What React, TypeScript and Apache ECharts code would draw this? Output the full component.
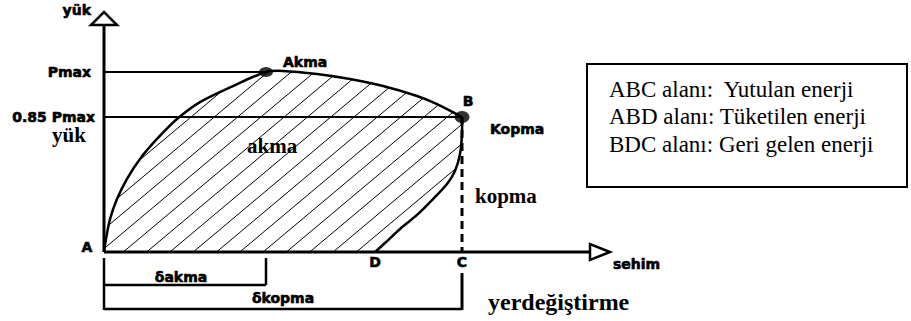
import React, { useEffect, useRef } from "react";
import * as echarts from "echarts";

// Diagram values (x: sehim / yerdeğiştirme, y: yük with Pmax = 100)
const origin: [number, number] = [0, 0];
const akmaPoint: [number, number] = [32.4, 100];
const pointB: [number, number] = [71.6, 75];
const pointC: [number, number] = [71.6, 0];
const pointD: [number, number] = [54.2, 0];
const X_AXIS_END = 97.2;
const Y_AXIS_END = 126.1;

const upperCurve: [number, number][] = [
  [0, 0], [0.4, 7.2], [1.2, 18.3], [2.6, 29.4], [4.6, 40.6], [7.2, 51.7],
  [10.6, 62.8], [14.6, 73.9], [19.2, 83.3], [25.8, 92.2], [32.4, 100], [35.8, 100.6],
  [42.6, 98.9], [49.2, 96.1], [55.8, 92.2], [62.6, 86.7], [66.6, 82.2], [71.6, 75],
];
const lowerCurve: [number, number][] = [
  [71.6, 75], [71.6, 65.6], [71.2, 54.4], [70.2, 45], [68.6, 37.8], [65.8, 29.4],
  [62.6, 20.6], [59.2, 12.8], [56.2, 5], [54.2, 0],
];
const pmaxLine = [[0, 100], akmaPoint];
const p085Line = [[0, 75], pointB];
const breakDrop = [pointB, pointC];
const infoLines = [
  "ABC alanı:  Yutulan enerji",
  "ABD alanı: Tüketilen enerji",
  "BDC alanı: Geri gelen enerji",
];

const SANS = "'DejaVu Sans', sans-serif";
const SERIF = "'Liberation Serif', 'Times New Roman', serif";

function txt(x: number, y: number, text: string, opts: any = {}) {
  const align = opts.align || "left";
  const style: any = {
    text,
    fill: "#000",
    fontFamily: opts.serif ? SERIF : SANS,
    fontWeight: "bold",
    fontSize: opts.size || (opts.serif ? 21 : 14),
    align,
    textAlign: align,
    verticalAlign: "middle",
    textVerticalAlign: "middle",
  };
  if (!opts.serif) {
    style.stroke = "#000";
    style.lineWidth = 0.6;
  }
  return { type: "text", x, y, style };
}

export default function App() {
  const ref = useRef<HTMLDivElement>(null);
  useEffect(() => {
    if (!ref.current) return;
    const chart = echarts.init(ref.current, undefined, { renderer: "svg" });
    const stroke = { stroke: "#000", fill: "none" };

    const option: any = {
      animation: false,
      backgroundColor: "#fff",
      grid: { left: 104, top: 18, width: 500, height: 234 },
      xAxis: { type: "value", min: 0, max: 100, show: false },
      yAxis: { type: "value", min: 0, max: 130, show: false },
      series: [
        {
          name: "hatch",
          type: "custom",
          z: 1,
          data: [[0, 0]],
          renderItem: (_p: any, api: any) => {
            const poly = [...upperCurve, ...lowerCurve.slice(1)].map((p) => api.coord(p));
            const o = api.coord(origin);
            const top = api.coord([0, 110])[1];
            const H = o[1] - top;
            const run = H / Math.tan((40 * Math.PI) / 180);
            const children: any[] = [];
            for (let k = -20; k < 40; k++) {
              const x0 = o[0] + 19.3 + k * 23.3;
              children.push({
                type: "line",
                shape: { x1: x0, y1: o[1], x2: x0 + run, y2: top },
                style: { stroke: "#000", lineWidth: 1 },
              });
            }
            return {
              type: "group",
              clipPath: { type: "polygon", shape: { points: poly, smooth: 0.3 } },
              children,
            };
          },
        },
        {
          name: "Pmax",
          type: "line",
          data: pmaxLine,
          showSymbol: false,
          z: 2,
          lineStyle: { color: "#000", width: 2 },
        },
        {
          name: "0.85 Pmax",
          type: "line",
          data: p085Line,
          showSymbol: false,
          z: 2,
          lineStyle: { color: "#000", width: 2 },
        },
        {
          name: "kopma",
          type: "line",
          data: breakDrop,
          showSymbol: false,
          z: 2,
          lineStyle: { color: "#000", width: 3, type: [8, 5] },
        },
        {
          name: "curves",
          type: "custom",
          z: 3,
          data: [[0, 0]],
          renderItem: (_p: any, api: any) => ({
            type: "group",
            children: [
              {
                type: "polyline",
                shape: { points: upperCurve.map((p) => api.coord(p)), smooth: 0.3 },
                style: { ...stroke, lineWidth: 2.5 },
              },
              {
                type: "polyline",
                shape: { points: lowerCurve.map((p) => api.coord(p)), smooth: 0.3 },
                style: { ...stroke, lineWidth: 2.5 },
              },
            ],
          }),
        },
        {
          name: "axes",
          type: "custom",
          z: 4,
          data: [[0, 0]],
          renderItem: (_p: any, api: any) => {
            const o = api.coord(origin);
            const xe = api.coord([X_AXIS_END, 0]);
            const ye = api.coord([0, Y_AXIS_END]);
            const c = api.coord(pointC);
            const a = api.coord(akmaPoint);
            const ln = (x1: number, y1: number, x2: number, y2: number, w: number) => ({
              type: "line",
              shape: { x1, y1, x2, y2 },
              style: { stroke: "#000", lineWidth: w },
            });
            return {
              type: "group",
              children: [
                ln(o[0], o[1], ye[0], ye[1], 3),
                ln(o[0], o[1], xe[0], xe[1], 3),
                {
                  type: "polygon",
                  shape: { points: [[ye[0] - 13, ye[1]], [ye[0] + 13, ye[1]], [ye[0], ye[1] - 13]] },
                  style: { stroke: "#000", fill: "#fff", lineWidth: 2.5 },
                },
                {
                  type: "polygon",
                  shape: { points: [[xe[0], xe[1] - 8], [xe[0], xe[1] + 8], [xe[0] + 20, xe[1]]] },
                  style: { stroke: "#000", fill: "#fff", lineWidth: 2.5 },
                },
                // dimension lines
                ln(o[0], o[1] + 6, o[0], o[1] + 58, 2.5),
                ln(a[0], o[1] + 6, a[0], o[1] + 33, 2.5),
                ln(c[0], o[1] + 21, c[0], o[1] + 58, 3),
                ln(o[0], o[1] + 33, a[0], o[1] + 33, 2.5),
                ln(o[0], o[1] + 57, c[0], o[1] + 57, 2.5),
              ],
            };
          },
        },
        {
          name: "points",
          type: "scatter",
          z: 5,
          symbol: "circle",
          itemStyle: { color: "#000" },
          data: [
            { value: akmaPoint, symbolSize: [14, 10] },
            { value: pointB, symbolSize: [15, 12] },
          ],
        },
        {
          name: "labels",
          type: "custom",
          z: 6,
          data: [[0, 0]],
          renderItem: (_p: any, api: any) => {
            const o = api.coord(origin);
            const ye = api.coord([0, Y_AXIS_END]);
            const xe = api.coord([X_AXIS_END, 0]);
            const pm = api.coord([0, 100]);
            const p85 = api.coord([0, 75]);
            const a = api.coord(akmaPoint);
            const b = api.coord(pointB);
            const c = api.coord(pointC);
            const d = api.coord(pointD);
            return {
              type: "group",
              children: [
                txt(ye[0] - 13, ye[1] - 15, "yük", { align: "right" }),
                txt(pm[0] - 13, pm[1], "Pmax", { align: "right" }),
                txt(p85[0] - 9, p85[1], "0.85 Pmax", { align: "right" }),
                txt(p85[0] - 52, p85[1] + 18, "yük", { serif: true }),
                txt(o[0] - 17, o[1] - 5, "A", { align: "center" }),
                txt(a[0] - 19, a[1] + 74, "akma", { serif: true }),
                txt(a[0] + 17, a[1] - 10, "Akma"),
                txt(b[0] + 6, b[1] - 16, "B", { align: "center" }),
                txt(b[0] + 28, b[1] + 12, "Kopma"),
                txt(c[0] + 13, c[1] - 56, "kopma", { serif: true }),
                txt(d[0], d[1] + 10, "D", { align: "center" }),
                txt(c[0], c[1] + 10, "C", { align: "center" }),
                txt(xe[0] + 23, xe[1] + 12, "sehim"),
                txt((o[0] + a[0]) / 2 - 4, o[1] + 25, "δakma", { align: "center" }),
                txt((o[0] + c[0]) / 2, o[1] + 46, "δkopma", { align: "center" }),
                txt(c[0] + 26, c[1] + 50, "yerdeğiştirme", { serif: true, size: 24 }),
              ],
            };
          },
        },
      ],
      graphic: [
        {
          type: "rect",
          shape: { x: 587, y: 64, width: 320, height: 123 },
          style: { stroke: "#000", fill: "none", lineWidth: 2 },
        },
        ...infoLines.map((t, i) => ({
          type: "text",
          x: 609,
          y: 89 + i * 27.5,
          style: {
            text: t,
            fill: "#000",
            fontFamily: SERIF,
            fontSize: 23,
            textVerticalAlign: "middle",
            verticalAlign: "middle",
          },
        })),
      ],
    };
    chart.setOption(option);
    return () => chart.dispose();
  }, []);
  return (
    <div
      ref={ref}
      style={{ position: "absolute", left: 0, top: 0, width: 911, height: 321, background: "#fff" }}
    />
  );
}
